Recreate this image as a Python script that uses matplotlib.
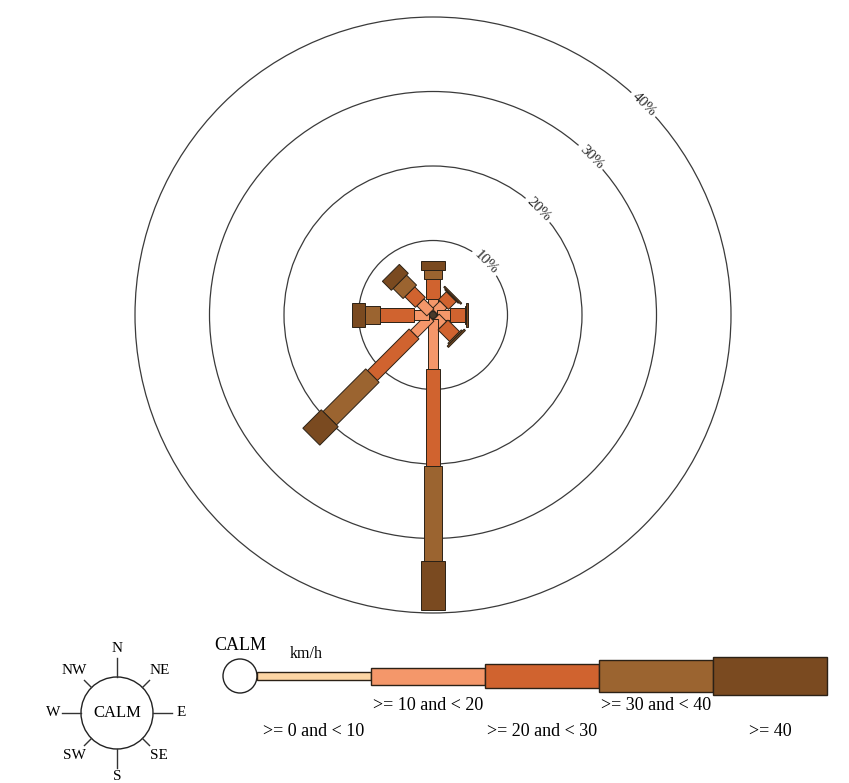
import math
import matplotlib
matplotlib.use("Agg")
import matplotlib.pyplot as plt
from matplotlib.patches import Rectangle, Circle
from matplotlib.transforms import Affine2D

plt.rcParams['font.family'] = ['Liberation Serif', 'DejaVu Serif']

# Wind directions (compass degrees, clockwise from north)
directions = ['N', 'NE', 'E', 'SE', 'S', 'SW', 'W', 'NW']
dir_angles = [0, 45, 90, 135, 180, 225, 270, 315]

# Frequency (%) per speed class, per direction
speed_labels = ['>= 0 and < 10', '>= 10 and < 20', '>= 20 and < 30',
                '>= 30 and < 40', '>= 40']
freq_0_10 = [0.5, 0.5, 0.5, 0.5, 0.5, 0.5, 0.5, 0.5]
freq_10_20 = [1.7, 1.5, 1.8, 1.4, 6.75, 3.1, 2.1, 1.9]
freq_20_30 = [2.6, 1.5, 2.0, 2.2, 13.0, 7.9, 4.5, 2.0]
freq_30_40 = [1.3, 0.15, 0.1, 0.2, 12.8, 8.1, 2.0, 1.9]
freq_40 = [1.1, 0.2, 0.25, 0.25, 6.6, 3.5, 1.8, 1.7]

ring_levels = [10, 20, 30, 40]
ring_labels = ['10%', '20%', '30%', '40%']

colors = ['#FCD5A4', '#F4976A', '#D0632F', '#9B6430', '#7A4A20']
edge = '#2b2116'
bar_widths = [0.8, 1.34, 1.88, 2.55, 3.22]      # in % units on the rose
legend_heights = [8, 17, 24, 32, 38]            # in pixels on the key

W, H = 849, 783
fig = plt.figure(figsize=(W / 100, H / 100), dpi=100)

# ---- rose ----
cx, cy = 433, 315            # centre in pixels
px_per_pct = 7.45
half = 42.0
hp = half * px_per_pct
ax = fig.add_axes([(cx - hp) / W, (H - cy - hp) / H, 2 * hp / W, 2 * hp / H])
ax.set_xlim(-half, half)
ax.set_ylim(-half, half)
ax.set_aspect('equal')
ax.axis('off')

for r, lab in zip(ring_levels, ring_labels):
    ax.add_patch(Circle((0, 0), r, fill=False, ec='#3a3a3a', lw=0.9, zorder=1))
    ax.text(r * 0.7071, r * 0.7071, lab, rotation=-45, ha='center', va='center',
            fontsize=11, color='#2a2a2a', zorder=2,
            bbox=dict(boxstyle='square,pad=0.2', fc='white', ec='none'))

series = [freq_0_10, freq_10_20, freq_20_30, freq_30_40, freq_40]
for i, ang in enumerate(dir_angles):
    rot = Affine2D().rotate_deg(90 - ang) + ax.transData
    start = 0.0
    for k in range(len(series)):
        val = series[k][i]
        w = bar_widths[k]
        ax.add_patch(Rectangle((start, -w / 2), val, w, transform=rot,
                               fc=colors[k], ec=edge, lw=0.7, zorder=3 + k * 0.01))
        start += val

ax.add_patch(Circle((0, 0), 0.45, fc='#4a3a2a', ec='#222222', lw=0.6, zorder=5))

# ---- key (pixel coordinates) ----
lg = fig.add_axes([0, 0, 1, 1], facecolor='none')
lg.set_xlim(0, W)
lg.set_ylim(H, 0)
lg.axis('off')

# compass icon
ccx, ccy, cr = 117, 713, 36
lg.add_patch(Circle((ccx, ccy), cr, fill=False, ec='#222222', lw=1.0))
lg.text(ccx, ccy, 'CALM', ha='center', va='center', fontsize=12)
tick_len = 19
for name, ang in zip(directions, dir_angles):
    a = math.radians(ang)
    dx, dy = math.sin(a), -math.cos(a)
    if ang % 90 == 0:
        t0, t1, tl = cr, cr + tick_len, cr + tick_len + 9
    else:
        t0, t1, tl = cr, cr + 10, cr + 24
    lg.plot([ccx + dx * t0, ccx + dx * t1], [ccy + dy * t0, ccy + dy * t1],
            color='#333333', lw=1.0)
    lg.text(ccx + dx * tl, ccy + dy * tl, name, ha='center', va='center',
            fontsize=11)

# speed key
kx0, ky, seg = 257, 676, 114
lg.add_patch(Circle((240, ky), 17, fill=False, ec='#222222', lw=1.0))
lg.text(240, 646, 'CALM', ha='center', va='center', fontsize=13)
lg.text(306, 654, 'km/h', ha='center', va='center', fontsize=11.5)
for k, lab in enumerate(speed_labels):
    h = legend_heights[k]
    x0 = kx0 + k * seg
    lg.add_patch(Rectangle((x0, ky - h / 2), seg, h, fc=colors[k], ec=edge, lw=1.0))
    ty = 706 if k % 2 == 1 else 731
    lg.text(x0 + seg / 2, ty, lab, ha='center', va='center', fontsize=13)

fig.savefig('out.png', dpi=100, facecolor='white')
